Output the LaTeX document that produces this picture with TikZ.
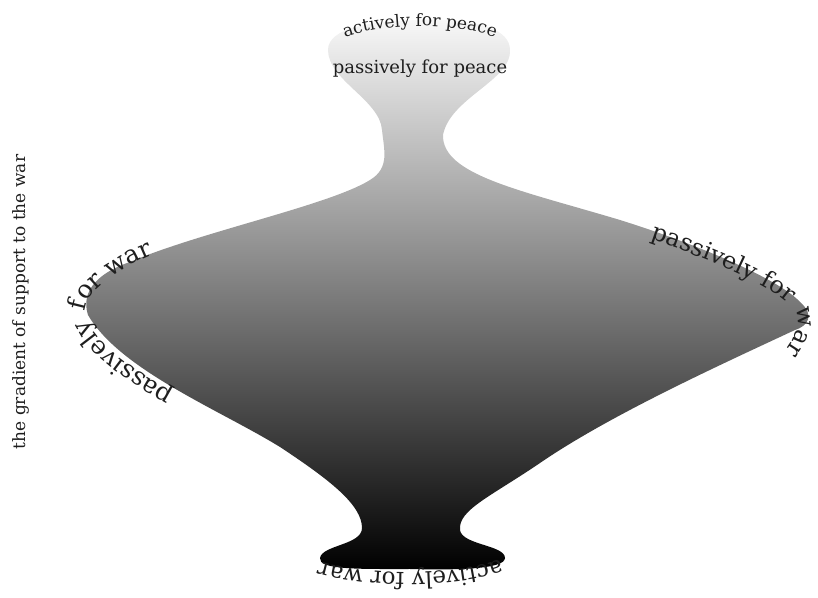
\documentclass[tikz,border=0pt]{standalone}
\usepackage{fontspec}
\setmainfont{DejaVu Serif}
\usetikzlibrary{decorations.text}
\definecolor{textcol}{HTML}{1E1E1E}
\tikzset{
  vase/.style={top color=gray!5, bottom color=black},
  lbl/.style={text=textcol, inner sep=0pt},
}
\begin{document}
\begin{tikzpicture}[x=0.5pt,y=0.5pt]
\begin{scope}[shift={(-409,299)}]
\useasboundingbox (0,0) rectangle (818,-598);
% the vase shape
\shade[vase] (420,-20)
  .. controls (480,-18) and (510,-30) .. (510,-50)
  .. controls (512,-80) and (450,-98) .. (443,-135)
  .. controls (442,-175) and (520,-190) .. (620,-220)
  .. controls (700,-245) and (780,-280) .. (800,-302)
  .. controls (815,-315) and (808,-326) .. (795,-330)
  .. controls (720,-365) and (610,-415) .. (540,-463)
  .. controls (490,-497) and (458,-510) .. (460,-530)
  .. controls (462,-545) and (505,-545) .. (505,-558)
  .. controls (505,-570) and (450,-570) .. (410,-569)
  .. controls (360,-569) and (318,-570) .. (320,-558)
  .. controls (322,-545) and (362,-545) .. (362,-528)
  .. controls (362,-505) and (330,-480) .. (280,-447)
  .. controls (220,-410) and (120,-370) .. (88,-315)
  .. controls (80,-290) and (100,-272) .. (130,-262)
  .. controls (200,-232) and (330,-205) .. (370,-180)
  .. controls (390,-168) and (384,-150) .. (382,-130)
  .. controls (380,-100) and (328,-80) .. (328,-50)
  .. controls (328,-28) and (370,-21) .. (420,-20) -- cycle;
% straight label
\node[lbl, anchor=base, font=\fontsize{9}{11}\selectfont] (pfp) at (420,-74) {passively for peace};
% vertical label
\node[lbl, rotate=90, font=\fontsize{8.5}{10}\selectfont] (grad) at (21,-302) {the gradient of support to the war};
% curved labels
\path[decorate, decoration={text along path, text color=textcol, text align=center,
  text={|\fontsize{8.5}{10}\selectfont|actively for peace}}]
  (330,-44) .. controls (375,-20) and (465,-20) .. (510,-44);
\path[decorate, decoration={text along path, text color=textcol, text align=center,
  text={|\fontsize{12.5}{15}\selectfont|passively for war}}]
  (185,-398) .. controls (140,-374) and (95,-347) .. (85,-314)
  .. controls (81,-292) and (125,-264) .. (165,-250);
\path[decorate, decoration={text along path, text color=textcol, text align=center,
  text={|\fontsize{12}{15}\selectfont|passively for war}}]
  (642,-236) .. controls (720,-262) and (780,-290) .. (795,-310)
  .. controls (803,-322) and (795,-340) .. (780,-358);
\path[decorate, decoration={text along path, text color=textcol, text align=center,
  text={|\fontsize{11.5}{14}\selectfont|actively for war}}]
  (512,-554) .. controls (470,-578) and (360,-578) .. (308,-558);
\end{scope}
\end{tikzpicture}
\end{document}
